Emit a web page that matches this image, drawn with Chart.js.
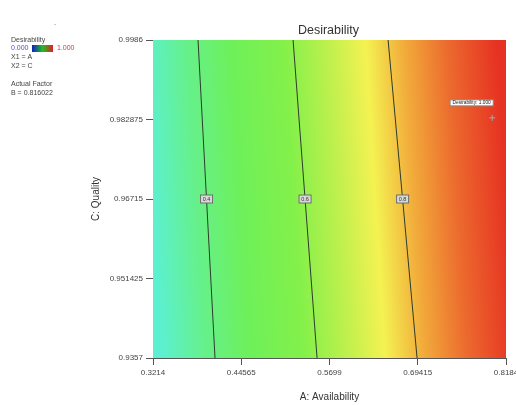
<!DOCTYPE html>
<html>
<head>
<meta charset="utf-8">
<script src="https://cdn.jsdelivr.net/npm/chart.js@4/dist/chart.umd.min.js"></script>
<style>
  html, body { margin: 0; padding: 0; background: #fff; }
  #wrap { width: 516px; height: 405px; }
</style>
</head>
<body>
<div id="wrap"><canvas id="desChart" width="516" height="405"></canvas></div>
<script>
// axis ticks as printed on the design plot
const xTicks = [0.3214, 0.44565, 0.5699, 0.69415, 0.8184];
const yTicks = [0.9357, 0.951425, 0.96715, 0.982875, 0.9986];

// contour lines of desirability: A value at top (C max) and bottom (C min)
const contourLevels = ['0.4', '0.6', '0.8'];
const contourTopA = [0.3848, 0.5186, 0.6524];
const contourBottomA = [0.4087, 0.5524, 0.6932];

// optimum flag
const optimumA = 0.7990;
const optimumC = 0.9832;
const optimumText = 'Desirability: 1.000';

const xMin = xTicks[0], xMax = xTicks[xTicks.length - 1];
const yMin = yTicks[0], yMax = yTicks[yTicks.length - 1];

const FONT = 'Liberation Sans, Arial, sans-serif';

const datasets = contourLevels.map((lvl, i) => ({
    label: lvl,
    type: 'line',
    data: [{x: contourTopA[i], y: yMax}, {x: contourBottomA[i], y: yMin}],
    borderColor: '#2d3b2d',
    borderWidth: 1,
    pointRadius: 0,
    fill: false
}));
datasets.push({
    label: 'optimum',
    type: 'scatter',
    data: [{x: optimumA, y: optimumC}],
    pointStyle: 'cross',
    pointRadius: 3,
    borderColor: '#a8a8a8',
    borderWidth: 1
});

// coloured response surface behind the contours
const surfacePlugin = {
    id: 'surface',
    beforeDatasetsDraw(chart) {
        const {ctx, chartArea: a} = chart;
        const cy = (a.top + a.bottom) / 2;
        const g = ctx.createLinearGradient(a.left, cy + 11, a.right, cy - 11);
        g.addColorStop(0.00, '#5cf0d0');
        g.addColorStop(0.12, '#66f08c');
        g.addColorStop(0.25, '#6ef05a');
        g.addColorStop(0.40, '#84f04a');
        g.addColorStop(0.53, '#c2f04e');
        g.addColorStop(0.63, '#f4f252');
        g.addColorStop(0.73, '#f2b03c');
        g.addColorStop(0.86, '#ec6a2e');
        g.addColorStop(1.00, '#e63222');
        ctx.save();
        ctx.fillStyle = g;
        ctx.fillRect(a.left, a.top, a.right - a.left, a.bottom - a.top);
        ctx.restore();
    },
    afterDatasetsDraw(chart) {
        const {ctx, scales: {x, y}} = chart;
        ctx.save();
        ctx.font = '5.5px ' + FONT;
        ctx.textAlign = 'center';
        ctx.textBaseline = 'middle';
        const yLab = yTicks[2];
        const t = (yMax - yLab) / (yMax - yMin);
        contourLevels.forEach((lvl, i) => {
            const a = contourTopA[i] + (contourBottomA[i] - contourTopA[i]) * t;
            const px = x.getPixelForValue(a), py = y.getPixelForValue(yLab);
            ctx.fillStyle = '#d6dad6';
            ctx.strokeStyle = '#6f6f6f';
            ctx.fillRect(px - 6, py - 4, 12, 8);
            ctx.strokeRect(px - 6, py - 4, 12, 8);
            ctx.fillStyle = '#333';
            ctx.fillText(lvl, px, py);
        });
        // optimum flag
        const ox = x.getPixelForValue(optimumA), oy = y.getPixelForValue(optimumC);
        ctx.font = '4.8px ' + FONT;
        const w = ctx.measureText(optimumText).width + 5;
        const bx = ox - w + 1, by = oy - 18;
        ctx.fillStyle = '#ffffff';
        ctx.strokeStyle = '#888';
        ctx.fillRect(bx, by, w, 6);
        ctx.strokeRect(bx, by, w, 6);
        ctx.fillStyle = '#222';
        ctx.fillText(optimumText, bx + w / 2, by + 3);
        ctx.restore();
    },
    afterDraw(chart) {
        const {ctx, chartArea: a} = chart;
        ctx.save();
        ctx.fillStyle = '#333';
        ctx.font = '12.5px ' + FONT;
        ctx.textAlign = 'center';
        ctx.textBaseline = 'middle';
        ctx.fillText('Desirability', (a.left + a.right) / 2 - 1, 31);

        ctx.font = '7px ' + FONT;
        ctx.textAlign = 'left';
        ctx.fillStyle = '#999';
        ctx.fillText('-', 54, 24);
        ctx.fillStyle = '#444';
        ctx.fillText('Desirability', 11, 40);
        ctx.fillStyle = '#3a50ff';
        ctx.fillText('0.000', 11, 48);
        const bar = ctx.createLinearGradient(32, 0, 53, 0);
        bar.addColorStop(0, '#1020c0');
        bar.addColorStop(0.5, '#20c020');
        bar.addColorStop(1, '#e02020');
        ctx.fillStyle = bar;
        ctx.fillRect(32, 45, 21, 7);
        ctx.fillStyle = '#ee3030';
        ctx.fillText('1.000', 57, 48);
        ctx.fillStyle = '#444';
        ctx.fillText('X1 = A', 11, 57);
        ctx.fillText('X2 = C', 11, 66);
        ctx.fillText('Actual Factor', 11, 84);
        ctx.fillText('B = 0.816022', 11, 93);
        ctx.restore();
    }
};

new Chart(document.getElementById('desChart'), {
    data: {datasets: datasets},
    plugins: [surfacePlugin],
    options: {
        responsive: false,
        animation: false,
        layout: {padding: {left: 88, right: 10, top: 40, bottom: 0}},
        plugins: {
            legend: {display: false},
            tooltip: {enabled: false}
        },
        scales: {
            x: {
                type: 'linear',
                min: xMin,
                max: xMax,
                afterBuildTicks: s => { s.ticks = xTicks.map(v => ({value: v})); },
                afterFit: s => { s.height = 47; s.paddingLeft = 0; s.paddingRight = 0; },
                ticks: {
                    autoSkip: false,
                    maxRotation: 0,
                    padding: 3,
                    color: '#444',
                    font: {family: FONT, size: 8},
                    callback: v => String(v)
                },
                grid: {drawOnChartArea: false, drawTicks: true, tickLength: 7, color: '#555'},
                border: {display: true, color: '#555'},
                title: {
                    display: true,
                    text: 'A: Availability',
                    color: '#333',
                    font: {family: FONT, size: 10},
                    padding: {top: 0, bottom: 2}
                }
            },
            y: {
                type: 'linear',
                min: yMin,
                max: yMax,
                afterBuildTicks: s => { s.ticks = yTicks.map(v => ({value: v})); },
                afterFit: s => { s.width = 65; s.paddingTop = 0; s.paddingBottom = 0; },
                ticks: {
                    autoSkip: false,
                    padding: 3,
                    color: '#444',
                    font: {family: FONT, size: 8},
                    callback: v => String(v)
                },
                grid: {drawOnChartArea: false, drawTicks: true, tickLength: 7, color: '#555'},
                border: {display: true, color: '#555'},
                title: {
                    display: true,
                    text: 'C: Quality',
                    color: '#333',
                    font: {family: FONT, size: 10},
                    padding: {top: 2, bottom: 0}
                }
            }
        }
    }
});
</script>
</body>
</html>
